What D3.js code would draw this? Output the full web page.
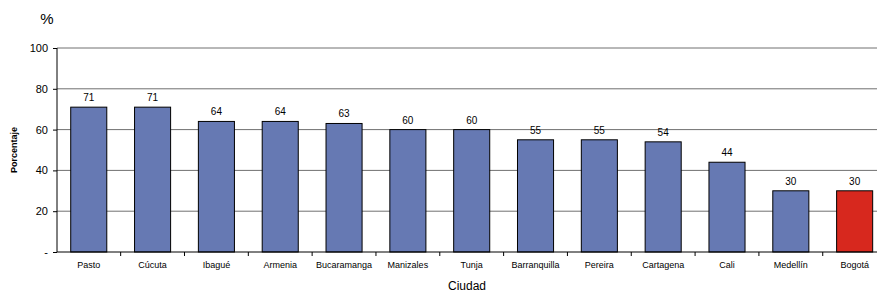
<!DOCTYPE html>
<html>
<head>
<meta charset="utf-8">
<script src="https://cdn.jsdelivr.net/npm/d3@7"></script>
<style>
    body { margin: 0; background: #fff; }
    svg { font-family: "Liberation Sans", Arial, sans-serif; display: block; }
</style>
</head>
<body>
<svg id="chart" width="878" height="296"></svg>
<script>
const cities = ['Pasto', 'Cúcuta', 'Ibagué', 'Armenia', 'Bucaramanga', 'Manizales', 'Tunja',
    'Barranquilla', 'Pereira', 'Cartagena', 'Cali', 'Medellín', 'Bogotá'];
const values = [71, 71, 64, 64, 63, 60, 60, 55, 55, 54, 44, 30, 30];
const yTicks = [0, 20, 40, 60, 80, 100];
const highlight = 'Bogotá';

const svg = d3.select('#chart');
const margin = {left: 57, right: 1, top: 48, bottom: 44};
const width = 878, height = 296;
const plotRight = width - margin.right;

// the category band runs a little past the right edge of the plot, as in the source
const x = d3.scaleBand()
    .domain(cities)
    .range([margin.left, margin.left + 13 * 63.8])
    .paddingInner(0.435)
    .paddingOuter(0.215);

const y = d3.scaleLinear()
    .domain([0, 100])
    .range([height - margin.bottom, margin.top]);

// gridlines
svg.append('g')
    .selectAll('line')
    .data(yTicks.filter(d => d > 0))
    .join('line')
    .attr('x1', margin.left)
    .attr('x2', plotRight)
    .attr('y1', d => y(d))
    .attr('y2', d => y(d))
    .attr('stroke', '#707070')
    .attr('stroke-width', 1);

// bars
svg.append('g')
    .selectAll('rect')
    .data(cities)
    .join('rect')
    .attr('x', d => x(d))
    .attr('y', (d, i) => y(values[i]))
    .attr('width', x.bandwidth())
    .attr('height', (d, i) => y(0) - y(values[i]))
    .attr('fill', d => d === highlight ? '#d7281e' : '#6679b3')
    .attr('stroke', '#000')
    .attr('stroke-width', 1);

// value labels
svg.append('g')
    .selectAll('text')
    .data(cities)
    .join('text')
    .attr('x', d => x(d) + x.bandwidth() / 2)
    .attr('y', (d, i) => y(values[i]) - 6)
    .attr('text-anchor', 'middle')
    .attr('font-size', 10)
    .attr('fill', '#000')
    .text((d, i) => values[i]);

// y axis
const yAxis = svg.append('g')
    .attr('transform', `translate(${margin.left},0)`)
    .call(d3.axisLeft(y).tickValues(yTicks).tickSize(4).tickPadding(5)
        .tickFormat(d => d === 0 ? '-' : d));
yAxis.selectAll('text').attr('font-size', 11).attr('fill', '#000').attr('font-family', null);
yAxis.selectAll('line, path').attr('stroke', '#000');
yAxis.select('.domain').attr('d', `M0,${y(100)}V${y(0)}`);

// x axis
const xAxis = svg.append('g')
    .attr('transform', `translate(0,${y(0)})`)
    .call(d3.axisBottom(x).tickSize(0).tickPadding(10));
xAxis.select('.domain').attr('d', `M${margin.left},0H${plotRight}`).attr('stroke', '#000');
xAxis.selectAll('text').attr('font-size', 9).attr('fill', '#000').attr('font-family', null);

// boundary ticks between categories
const step = x.step();
svg.append('g')
    .selectAll('line')
    .data(cities.slice(1))
    .join('line')
    .attr('x1', d => x(d) - (step - x.bandwidth()) / 2)
    .attr('x2', d => x(d) - (step - x.bandwidth()) / 2)
    .attr('y1', y(0))
    .attr('y2', y(0) + 4)
    .attr('stroke', '#000');

// titles
svg.append('text')
    .attr('x', 47).attr('y', 24)
    .attr('text-anchor', 'middle')
    .attr('font-size', 15)
    .text('%');

svg.append('text')
    .attr('transform', `translate(17,${(y(0) + y(100)) / 2}) rotate(-90)`)
    .attr('text-anchor', 'middle')
    .attr('font-size', 9)
    .attr('font-weight', 'bold')
    .text('Porcentaje');

svg.append('text')
    .attr('x', 467)
    .attr('y', 290)
    .attr('text-anchor', 'middle')
    .attr('font-size', 12)
    .text('Ciudad');
</script>
</body>
</html>
